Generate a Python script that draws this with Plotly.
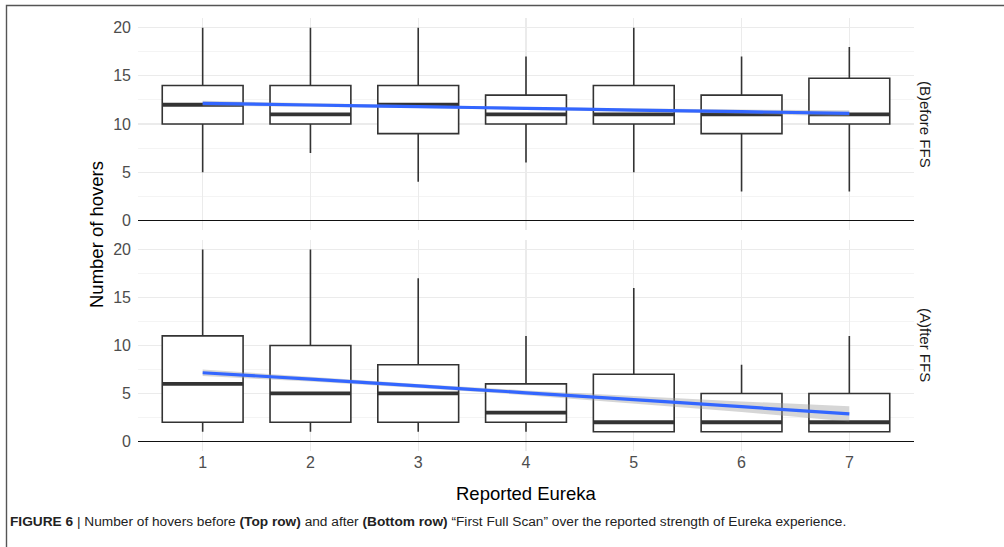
import plotly.graph_objects as go

W, H = 1004, 547

categories = [1, 2, 3, 4, 5, 6, 7]
tick_labels = ["1", "2", "3", "4", "5", "6", "7"]

# (B)efore FFS  (top row)
before_low = [5, 7, 4, 6, 5, 3, 3]
before_q1 = [10, 10, 9, 10, 10, 9, 10]
before_med = [12, 11, 12, 11, 11, 11, 11]
before_q3 = [14, 14, 14, 13, 14, 13, 14.75]
before_high = [20, 20, 20, 17, 20, 17, 18]
before_fit = [12.15, 11.97, 11.8, 11.62, 11.45, 11.28, 11.1]
before_se = [0.25, 0.18, 0.14, 0.13, 0.16, 0.22, 0.32]

# (A)fter FFS  (bottom row)
after_low = [1, 1, 1, 1, 1, 1, 1]
after_q1 = [2, 2, 2, 2, 1, 1, 1]
after_med = [6, 5, 5, 3, 2, 2, 2]
after_q3 = [11, 10, 8, 6, 7, 5, 5]
after_high = [20, 20, 17, 11, 16, 8, 11]
after_fit = [7.16, 6.5, 5.78, 5.07, 4.35, 3.62, 2.87]
after_se = [0.35, 0.25, 0.2, 0.25, 0.38, 0.55, 0.8]

y_ticks = [0, 5, 10, 15, 20]
strip_labels = ["(B)efore FFS", "(A)fter FFS"]

BOX_W = 0.75
LINE = "#333333"
FONT = "Liberation Sans, Arial, Helvetica, sans-serif"

fig = go.Figure()


def add_panel(xa, ya, low, q1, med, q3, high, fit, se):
    fig.add_trace(go.Box(
        x=categories, q1=q1, median=med, q3=q3,
        lowerfence=low, upperfence=high,
        width=BOX_W, whiskerwidth=0, boxpoints=False,
        fillcolor="white", line=dict(color=LINE, width=1.6),
        xaxis=xa, yaxis=ya, showlegend=False, hoverinfo="skip",
    ))
    mx, my = [], []
    for c, m in zip(categories, med):
        mx += [c - BOX_W / 2, c + BOX_W / 2, None]
        my += [m, m, None]
    fig.add_trace(go.Scatter(
        x=mx, y=my, mode="lines", line=dict(color=LINE, width=3.8),
        xaxis=xa, yaxis=ya, showlegend=False, hoverinfo="skip",
    ))
    upper = [f + s for f, s in zip(fit, se)]
    lower = [f - s for f, s in zip(fit, se)]
    fig.add_trace(go.Scatter(
        x=categories + categories[::-1], y=upper + lower[::-1],
        fill="toself", fillcolor="rgba(153,153,153,0.4)",
        line=dict(width=0), mode="lines",
        xaxis=xa, yaxis=ya, showlegend=False, hoverinfo="skip",
    ))
    fig.add_trace(go.Scatter(
        x=categories, y=fit, mode="lines",
        line=dict(color="#3366FF", width=3.2, shape="spline"),
        xaxis=xa, yaxis=ya, showlegend=False, hoverinfo="skip",
    ))


add_panel("x", "y", before_low, before_q1, before_med, before_q3, before_high,
          before_fit, before_se)
add_panel("x2", "y2", after_low, after_q1, after_med, after_q3, after_high,
          after_fit, after_se)

x_dom = [138 / W, 914 / W]
top_dom = [1 - 230 / H, 1 - 18 / H]
bot_dom = [1 - 451 / H, 1 - 240 / H]

xcommon = dict(range=[0.4, 7.6], tickvals=categories, ticktext=tick_labels,
               showgrid=True, gridcolor="#EBEBEB", gridwidth=1.2,
               zeroline=False, showline=False, ticks="",
               tickfont=dict(family=FONT, size=16, color="#4D4D4D"),
               domain=x_dom, fixedrange=True)
ycommon = dict(range=[-1, 21], tickvals=y_ticks,
               showgrid=True, gridcolor="#EBEBEB", gridwidth=1.2,
               minor=dict(dtick=2.5, tick0=0, showgrid=True,
                          gridcolor="#F0F0F0", gridwidth=0.7),
               zeroline=True, zerolinecolor="#111111", zerolinewidth=1.6,
               showline=False, ticks="",
               tickfont=dict(family=FONT, size=16, color="#4D4D4D"),
               ticklabelstandoff=6, fixedrange=True)

fig.update_layout(
    width=W, height=H,
    margin=dict(l=0, r=0, t=0, b=0),
    paper_bgcolor="white", plot_bgcolor="white",
    xaxis=dict(xcommon, anchor="y", showticklabels=False),
    yaxis=dict(ycommon, anchor="x", domain=top_dom),
    xaxis2=dict(xcommon, anchor="y2", showticklabels=True),
    yaxis2=dict(ycommon, anchor="x2", domain=bot_dom),
    font=dict(family=FONT),
)

annotations = [
    dict(text=strip_labels[0], x=926 / W, y=1 - 124 / H, xref="paper", yref="paper",
         textangle=90, showarrow=False, font=dict(family=FONT, size=15, color="#1A1A1A"),
         xanchor="center", yanchor="middle"),
    dict(text=strip_labels[1], x=926 / W, y=1 - 345 / H, xref="paper", yref="paper",
         textangle=90, showarrow=False, font=dict(family=FONT, size=15, color="#1A1A1A"),
         xanchor="center", yanchor="middle"),
    dict(text="Number of hovers", x=97 / W, y=1 - 235 / H, xref="paper", yref="paper",
         textangle=-90, showarrow=False, font=dict(family=FONT, size=18.5, color="black"),
         xanchor="center", yanchor="middle"),
    dict(text="Reported Eureka", x=526 / W, y=1 - 493 / H, xref="paper", yref="paper",
         showarrow=False, font=dict(family=FONT, size=18.5, color="black"),
         xanchor="center", yanchor="middle"),
    dict(text="<b>FIGURE 6</b> | Number of hovers before <b>(Top row)</b> and after "
              "<b>(Bottom row)</b> \u201cFirst Full Scan\u201d over the reported strength "
              "of Eureka experience.",
         x=8 / W, y=1 - 521 / H, xref="paper", yref="paper",
         showarrow=False, font=dict(family=FONT, size=13.7, color="#222222"),
         xanchor="left", yanchor="middle"),
]
fig.update_layout(annotations=annotations)

fig.add_shape(type="rect", xref="paper", yref="paper",
              x0=6.5 / W, x1=1.2, y0=-0.2, y1=1 - 5.5 / H,
              line=dict(color="#555555", width=1.4), fillcolor="rgba(0,0,0,0)",
              layer="below")

fig.write_html("out.html",
               config={"displayModeBar": False, "staticPlot": True},
               post_script="document.body.style.margin='0';"
                           "document.body.style.overflow='hidden';")
